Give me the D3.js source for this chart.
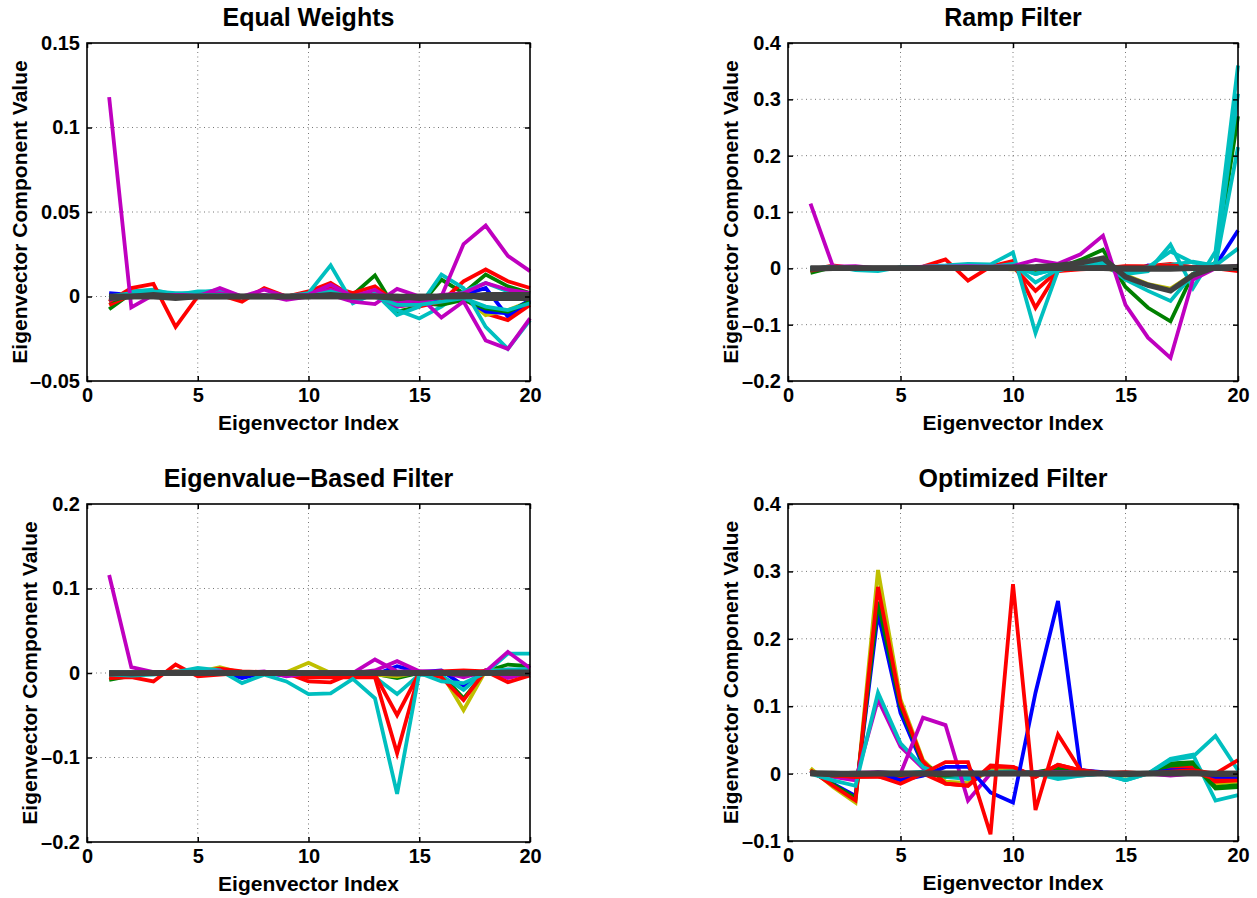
<!DOCTYPE html>
<html>
<head>
<meta charset="utf-8">
<script src="https://cdn.jsdelivr.net/npm/d3@7"></script>
<style>
  body { margin: 0; background: #fff; }
  svg text { font-family: "Liberation Sans", Arial, sans-serif; font-weight: bold; fill: #000; }
</style>
</head>
<body>
<script>
// eigenvector index 1..20
var xIndex = d3.range(1, 21);

// colour keys (matlab order) for the series of every panel
var palette = { b: '#0000ff', g: '#008000', r: '#ff0000', c: '#00bfbf', m: '#bf00bf', y: '#bfbf00', k: '#404040' };

// ---- Equal Weights ----
var ewKeys = ['b', 'g', 'r', 'c', 'y', 'b', 'g', 'r', 'c', 'm', 'm', 'm', 'c', 'k', 'k', 'k'];
var ewSeries = [
  [0.002, 0.001, 0.001, 0.000, 0.001, 0.000, 0.000, 0.000, 0.000, 0.001, 0.002, 0.001, 0.001, -0.002, -0.003, -0.005, 0.001, 0.005, -0.012, -0.003],
  [-0.0075, 0.002, 0.002, 0.001, 0.001, 0.001, 0.000, 0.000, 0.000, 0.001, 0.004, 0.001, 0.0125, -0.009, -0.006, 0.010, 0.002, 0.013, 0.006, 0.002],
  [-0.005, 0.001, 0.002, 0.001, 0.000, 0.000, 0.000, 0.000, 0.000, 0.003, 0.008, 0.000, 0.002, -0.006, -0.004, -0.002, -0.001, -0.010, -0.014, -0.005],
  [-0.001, 0.003, 0.004, 0.001, 0.003, 0.003, 0.000, 0.001, 0.000, 0.001, 0.005, -0.002, 0.001, -0.008, -0.013, -0.006, 0.003, 0.008, 0.003, 0.001],
  [-0.001, 0.001, 0.001, 0.000, 0.000, 0.000, 0.000, 0.000, 0.000, 0.000, 0.002, 0.002, 0.001, -0.003, -0.003, -0.002, 0.000, -0.011, -0.008, -0.003],
  [0.001, 0.000, 0.000, 0.000, 0.000, 0.000, 0.000, 0.000, 0.000, 0.000, 0.000, 0.000, 0.000, -0.001, -0.002, -0.003, -0.001, -0.009, -0.010, -0.002],
  [-0.003, 0.001, 0.001, 0.000, 0.000, 0.000, 0.000, 0.000, -0.001, 0.000, 0.002, 0.000, 0.003, -0.003, -0.004, -0.005, -0.002, -0.007, -0.009, -0.003],
  [-0.003, 0.005, 0.0075, -0.018, 0.000, 0.001, -0.003, 0.005, 0.000, 0.002, 0.006, 0.002, 0.006, -0.004, -0.006, -0.003, 0.009, 0.016, 0.009, 0.005],
  [0.000, 0.002, 0.003, 0.002, 0.002, 0.004, 0.000, 0.000, 0.000, 0.002, 0.0185, -0.004, 0.002, -0.011, -0.006, 0.013, 0.005, -0.018, -0.031, -0.014],
  [0.118, -0.0065, 0.001, 0.001, 0.001, 0.002, 0.000, 0.001, -0.002, 0.000, 0.001, -0.003, -0.0045, 0.0045, 0.000, -0.0125, -0.003, -0.026, -0.031, -0.013],
  [-0.002, 0.001, 0.001, 0.000, 0.000, 0.005, 0.000, 0.000, 0.000, 0.001, 0.004, 0.000, 0.001, -0.006, -0.004, 0.000, 0.031, 0.042, 0.024, 0.015],
  [0.000, 0.000, 0.000, 0.000, 0.000, 0.001, 0.000, 0.004, 0.000, 0.001, 0.007, 0.000, 0.004, -0.004, -0.002, 0.001, 0.002, 0.008, 0.004, 0.002],
  [0.000, 0.001, 0.001, 0.000, 0.001, 0.001, 0.000, 0.000, 0.000, 0.000, 0.003, -0.001, 0.000, -0.005, -0.005, -0.003, -0.001, -0.006, -0.008, -0.004],
  [0.000, 0.000, 0.000, -0.001, 0.000, 0.000, 0.000, 0.000, 0.000, 0.000, 0.000, 0.000, 0.000, 0.000, 0.000, 0.000, 0.000, 0.001, 0.001, 0.001],
  [0.000, 0.000, 0.001, 0.000, 0.000, 0.000, 0.000, 0.000, 0.000, 0.000, 0.001, 0.000, 0.000, -0.001, 0.000, 0.000, 0.001, -0.001, -0.001, -0.001],
  [-0.001, 0.000, 0.000, 0.000, 0.000, 0.000, 0.000, 0.000, 0.000, 0.000, 0.000, 0.000, 0.000, 0.000, -0.001, 0.000, 0.000, 0.000, 0.000, 0.000]
];

// ---- Ramp Filter ----
var rfKeys = ['b', 'g', 'r', 'c', 'y', 'r', 'c', 'c', 'c', 'm', 'k', 'k', 'k'];
var rfSeries = [
  [0.000, 0.001, 0.000, 0.000, 0.000, 0.001, 0.001, 0.001, 0.001, 0.002, 0.002, 0.001, 0.001, 0.003, -0.010, 0.005, 0.003, 0.002, 0.005, 0.067],
  [-0.008, 0.002, 0.001, 0.000, 0.000, 0.001, 0.001, 0.002, 0.001, 0.003, -0.005, 0.000, 0.015, 0.033, -0.033, -0.070, -0.094, -0.010, 0.010, 0.270],
  [-0.004, 0.002, 0.001, 0.000, 0.000, 0.001, 0.002, 0.001, 0.001, 0.003, -0.040, -0.004, 0.000, 0.002, 0.003, 0.004, 0.008, 0.002, 0.001, 0.002],
  [0.000, 0.001, 0.000, 0.000, 0.000, 0.001, 0.001, 0.002, 0.001, 0.005, -0.010, 0.000, 0.002, 0.005, -0.005, 0.002, 0.006, 0.012, 0.005, 0.035],
  [0.000, 0.000, 0.000, 0.000, 0.000, 0.000, 0.000, 0.000, 0.000, -0.002, -0.002, 0.000, 0.002, 0.003, -0.012, -0.028, -0.036, -0.010, 0.002, 0.003],
  [-0.003, 0.005, 0.000, -0.002, 0.001, 0.003, 0.016, -0.022, 0.003, 0.013, -0.070, -0.005, -0.002, 0.000, 0.004, 0.003, 0.005, 0.002, 0.000, -0.005],
  [0.000, 0.002, 0.000, -0.002, 0.001, 0.002, 0.003, 0.003, 0.002, 0.008, -0.025, -0.002, 0.004, 0.010, -0.020, -0.040, -0.058, -0.010, 0.010, 0.310],
  [0.000, 0.001, 0.000, 0.000, 0.000, 0.001, 0.001, 0.002, 0.001, 0.005, -0.010, 0.000, 0.002, 0.005, -0.005, 0.002, 0.030, 0.010, 0.005, 0.215],
  [-0.002, 0.004, -0.003, -0.005, 0.002, 0.003, 0.005, 0.008, 0.007, 0.028, -0.115, -0.004, 0.005, 0.012, -0.010, -0.005, 0.042, -0.035, 0.030, 0.360],
  [0.115, 0.003, 0.004, 0.000, 0.000, 0.003, 0.003, 0.004, 0.003, 0.004, 0.015, 0.008, 0.025, 0.058, -0.065, -0.123, -0.159, -0.020, 0.000, 0.005],
  [0.000, 0.000, 0.000, 0.000, 0.000, 0.000, 0.001, 0.001, 0.001, 0.002, 0.003, 0.005, 0.010, 0.018, -0.015, -0.030, -0.040, -0.012, 0.002, 0.003],
  [-0.001, 0.000, 0.000, 0.000, 0.000, 0.000, 0.000, 0.000, 0.000, 0.000, 0.000, 0.000, 0.000, 0.001, 0.000, 0.000, 0.000, 0.000, 0.000, 0.000],
  [0.000, 0.000, 0.000, 0.000, 0.000, 0.000, 0.000, 0.000, 0.000, 0.000, 0.000, 0.000, 0.000, 0.000, -0.001, -0.001, -0.001, 0.000, 0.001, 0.001]
];

// ---- Eigenvalue-Based Filter ----
var ebKeys = ['b', 'g', 'y', 'c', 'r', 'm', 'r', 'c', 'm', 'k', 'k', 'k'];
var ebSeries = [
  [0.000, 0.000, 0.000, 0.000, 0.004, 0.002, -0.006, 0.000, -0.003, -0.002, -0.002, 0.000, -0.002, 0.008, 0.001, 0.003, -0.015, 0.003, 0.004, 0.003],
  [-0.008, -0.003, 0.000, 0.001, 0.002, 0.003, 0.001, 0.001, 0.000, -0.004, -0.003, 0.000, -0.001, -0.006, 0.000, -0.002, -0.030, 0.002, 0.010, 0.008],
  [-0.004, -0.004, 0.000, 0.002, 0.001, 0.007, 0.000, 0.000, 0.001, 0.012, 0.000, 0.000, -0.002, -0.004, 0.001, 0.000, -0.044, 0.003, 0.003, 0.004],
  [0.001, 0.001, 0.000, 0.000, 0.002, 0.001, 0.000, 0.000, 0.000, -0.002, -0.002, 0.000, -0.005, -0.025, -0.002, -0.003, -0.020, 0.002, 0.004, 0.005],
  [-0.002, -0.002, 0.000, 0.002, 0.001, 0.005, 0.002, 0.001, 0.000, -0.010, -0.011, 0.000, -0.002, -0.050, 0.000, -0.005, -0.032, 0.003, -0.004, 0.002],
  [0.000, 0.000, 0.000, 0.000, 0.000, 0.000, 0.000, 0.000, 0.000, -0.002, -0.002, 0.000, 0.003, 0.014, 0.002, 0.002, -0.004, 0.003, -0.006, 0.000],
  [-0.006, -0.005, -0.010, 0.010, -0.004, -0.002, 0.000, 0.000, -0.002, -0.005, -0.005, -0.005, -0.005, -0.095, 0.000, 0.002, 0.003, 0.002, -0.011, -0.003],
  [-0.002, -0.003, -0.002, 0.001, 0.006, 0.003, -0.012, -0.002, -0.010, -0.025, -0.024, -0.007, -0.030, -0.143, 0.000, -0.010, -0.012, 0.000, 0.023, 0.023],
  [0.116, 0.007, 0.001, 0.000, 0.001, 0.002, 0.000, 0.002, -0.004, 0.000, 0.000, 0.000, 0.016, 0.002, 0.002, 0.001, -0.005, 0.002, 0.025, 0.006],
  [0.000, 0.000, 0.000, 0.000, 0.000, 0.000, 0.000, 0.000, 0.000, 0.000, 0.000, 0.000, 0.000, 0.000, 0.000, 0.000, 0.000, 0.000, 0.000, 0.000],
  [-0.001, 0.000, 0.000, 0.000, 0.000, 0.000, 0.000, 0.000, 0.000, 0.000, 0.000, 0.000, 0.000, -0.001, 0.000, 0.000, -0.001, 0.000, 0.001, 0.001],
  [0.000, -0.001, 0.000, 0.000, 0.000, 0.000, 0.000, 0.000, 0.000, 0.000, 0.000, 0.000, 0.000, 0.000, 0.000, 0.000, 0.000, 0.000, 0.000, -0.001]
];

// ---- Optimized Filter ----
var ofKeys = ['y', 'b', 'g', 'r', 'm', 'c', 'g', 'c', 'm', 'r', 'b', 'r', 'k', 'k', 'k'];
var ofSeries = [
  [0.008, -0.020, -0.043, 0.302, 0.110, 0.020, -0.012, -0.014, 0.005, 0.005, 0.000, 0.005, 0.003, 0.000, -0.002, 0.000, 0.010, 0.012, -0.015, -0.012],
  [0.004, -0.015, -0.033, 0.238, 0.090, 0.012, -0.004, -0.004, 0.002, 0.003, 0.002, 0.005, 0.002, 0.000, 0.000, 0.000, 0.006, 0.008, -0.010, -0.008],
  [0.004, -0.016, -0.036, 0.255, 0.100, 0.015, -0.005, -0.005, 0.002, 0.003, 0.002, 0.008, 0.003, 0.000, 0.000, 0.000, 0.015, 0.017, -0.020, -0.017],
  [0.005, -0.018, -0.040, 0.277, 0.105, 0.018, -0.015, -0.018, 0.010, 0.010, -0.005, 0.013, 0.005, 0.001, 0.000, 0.000, 0.008, 0.010, -0.012, -0.010],
  [0.000, -0.005, -0.010, 0.110, 0.040, 0.008, 0.000, -0.003, 0.002, 0.002, 0.000, 0.002, 0.001, 0.000, 0.000, 0.000, -0.002, 0.000, 0.000, 0.000],
  [0.000, -0.010, -0.018, 0.120, 0.045, 0.010, -0.005, -0.008, 0.003, 0.003, 0.000, -0.008, -0.003, 0.000, -0.010, 0.000, 0.022, 0.028, -0.040, -0.032],
  [0.002, -0.003, -0.004, 0.001, -0.004, -0.002, -0.003, -0.002, 0.000, 0.001, 0.001, 0.004, 0.002, 0.000, -0.003, 0.000, 0.012, 0.015, -0.022, -0.020],
  [0.000, -0.002, -0.004, 0.002, 0.000, 0.003, 0.000, -0.005, 0.002, 0.002, 0.002, -0.005, -0.003, 0.000, -0.010, 0.000, 0.020, 0.025, 0.056, 0.005],
  [0.000, 0.000, 0.001, 0.002, 0.000, 0.083, 0.072, -0.040, 0.000, 0.000, 0.002, 0.002, 0.002, 0.000, 0.000, 0.000, -0.003, 0.000, 0.000, 0.000],
  [0.000, -0.002, -0.005, -0.005, -0.008, 0.000, -0.015, -0.018, 0.012, 0.010, -0.005, 0.013, 0.005, 0.000, 0.000, 0.000, 0.003, 0.003, -0.008, -0.005],
  [0.000, 0.000, 0.000, 0.001, -0.010, -0.003, 0.010, 0.010, -0.028, -0.043, 0.120, 0.256, 0.005, 0.002, 0.000, 0.000, 0.005, 0.005, -0.005, -0.005],
  [0.002, -0.003, -0.005, -0.004, -0.015, 0.000, 0.017, 0.017, -0.090, 0.281, -0.054, 0.058, 0.005, 0.001, 0.002, 0.000, 0.003, 0.005, 0.000, 0.020],
  [0.000, 0.000, 0.000, 0.000, 0.000, 0.000, 0.000, 0.000, 0.000, 0.000, 0.000, 0.000, 0.000, 0.000, 0.000, 0.000, 0.000, 0.000, 0.000, 0.000],
  [0.001, 0.000, -0.001, 0.000, 0.000, 0.000, 0.000, 0.000, 0.000, 0.000, 0.000, 0.000, 0.000, 0.000, 0.000, 0.000, 0.001, 0.001, -0.001, -0.001],
  [0.000, -0.001, 0.000, 0.000, 0.000, 0.000, 0.000, 0.000, 0.000, 0.000, 0.000, 0.000, 0.000, 0.000, -0.001, 0.000, 0.000, 0.000, 0.000, 0.000]
];

// tick values / labels
var xTicks = [0, 5, 10, 15, 20];
var ewTicks = [-0.05, 0, 0.05, 0.1, 0.15];
var ewTickLabels = ['\u20130.05', '0', '0.05', '0.1', '0.15'];
var rfTicks = [-0.2, -0.1, 0, 0.1, 0.2, 0.3, 0.4];
var rfTickLabels = ['\u20130.2', '\u20130.1', '0', '0.1', '0.2', '0.3', '0.4'];
var ebTicks = [-0.2, -0.1, 0, 0.1, 0.2];
var ebTickLabels = ['\u20130.2', '\u20130.1', '0', '0.1', '0.2'];
var ofTicks = [-0.1, 0, 0.1, 0.2, 0.3, 0.4];
var ofTickLabels = ['\u20130.1', '0', '0.1', '0.2', '0.3', '0.4'];

var svg = d3.select('body').append('svg').attr('width', 1257).attr('height', 898);

function drawPanel(p) {
  var x = d3.scaleLinear().domain([0, 20]).range([p.left, p.right]);
  var y = d3.scaleLinear().domain([p.ticks[0], p.ticks[p.ticks.length - 1]]).range([p.bottom, p.top]);
  var g = svg.append('g');

  // dotted grid
  g.selectAll('.gx').data(xTicks.slice(1, -1)).enter().append('line')
    .attr('x1', function (d) { return x(d); }).attr('x2', function (d) { return x(d); })
    .attr('y1', p.top).attr('y2', p.bottom)
    .attr('stroke', '#777').attr('stroke-width', 1).attr('stroke-dasharray', '1,3.5');
  g.selectAll('.gy').data(p.ticks.slice(1, -1)).enter().append('line')
    .attr('y1', function (d) { return y(d); }).attr('y2', function (d) { return y(d); })
    .attr('x1', p.left).attr('x2', p.right)
    .attr('stroke', '#777').attr('stroke-width', 1).attr('stroke-dasharray', '1,3.5');

  // lines
  var line = d3.line().x(function (d, i) { return x(xIndex[i]); }).y(function (d) { return y(d); });
  g.selectAll('.series').data(p.series).enter().append('path')
    .attr('d', line)
    .attr('fill', 'none')
    .attr('stroke', function (d, i) { return palette[p.keys[i]]; })
    .attr('stroke-width', function (d, i) { return p.keys[i] === 'k' ? 5.5 : 3.8; })
    .attr('stroke-linejoin', 'miter');

  // axes, inward ticks on all sides
  var fmt = function (d) { return p.labels[p.ticks.indexOf(d)]; };
  var axB = g.append('g').attr('transform', 'translate(0,' + p.bottom + ')')
    .call(d3.axisBottom(x).tickValues(xTicks).tickSize(-5).tickPadding(6));
  var axL = g.append('g').attr('transform', 'translate(' + p.left + ',0)')
    .call(d3.axisLeft(y).tickValues(p.ticks).tickFormat(fmt).tickSize(-5).tickPadding(7));
  g.append('g').attr('transform', 'translate(0,' + p.top + ')')
    .call(d3.axisTop(x).tickValues(xTicks).tickSize(-5).tickFormat(''));
  g.append('g').attr('transform', 'translate(' + p.right + ',0)')
    .call(d3.axisRight(y).tickValues(p.ticks).tickSize(-5).tickFormat(''));
  g.selectAll('.domain').remove();
  g.selectAll('.tick line').attr('stroke', '#000').attr('stroke-width', 1.5);
  axB.selectAll('text').style('font-size', '20px').attr('dy', '0.75em');
  axL.selectAll('text').style('font-size', '20px');

  g.append('rect').attr('x', p.left).attr('y', p.top)
    .attr('width', p.right - p.left).attr('height', p.bottom - p.top)
    .attr('fill', 'none').attr('stroke', '#000').attr('stroke-width', 1.6);

  // title and labels
  g.append('text').attr('x', (p.left + p.right) / 2).attr('y', p.top - 17)
    .attr('text-anchor', 'middle').style('font-size', '25px').text(p.title);
  g.append('text').attr('x', (p.left + p.right) / 2).attr('y', p.bottom + 49)
    .attr('text-anchor', 'middle').style('font-size', '21px').text('Eigenvector Index');
  g.append('text')
    .attr('transform', 'translate(' + (p.left - p.labelOffset) + ',' + ((p.top + p.bottom) / 2) + ') rotate(-90)')
    .attr('text-anchor', 'middle').style('font-size', '21px').text('Eigenvector Component Value');
}

drawPanel({ title: 'Equal Weights', left: 87, right: 530, top: 43, bottom: 381, labelOffset: 60,
  ticks: ewTicks, labels: ewTickLabels, series: ewSeries, keys: ewKeys });
drawPanel({ title: 'Ramp Filter', left: 788, right: 1238, top: 43, bottom: 381, labelOffset: 50,
  ticks: rfTicks, labels: rfTickLabels, series: rfSeries, keys: rfKeys });
drawPanel({ title: 'Eigenvalue\u2212Based Filter', left: 87, right: 530, top: 504, bottom: 842, labelOffset: 50,
  ticks: ebTicks, labels: ebTickLabels, series: ebSeries, keys: ebKeys });
drawPanel({ title: 'Optimized Filter', left: 788, right: 1238, top: 504, bottom: 841, labelOffset: 50,
  ticks: ofTicks, labels: ofTickLabels, series: ofSeries, keys: ofKeys });
</script>
</body>
</html>
